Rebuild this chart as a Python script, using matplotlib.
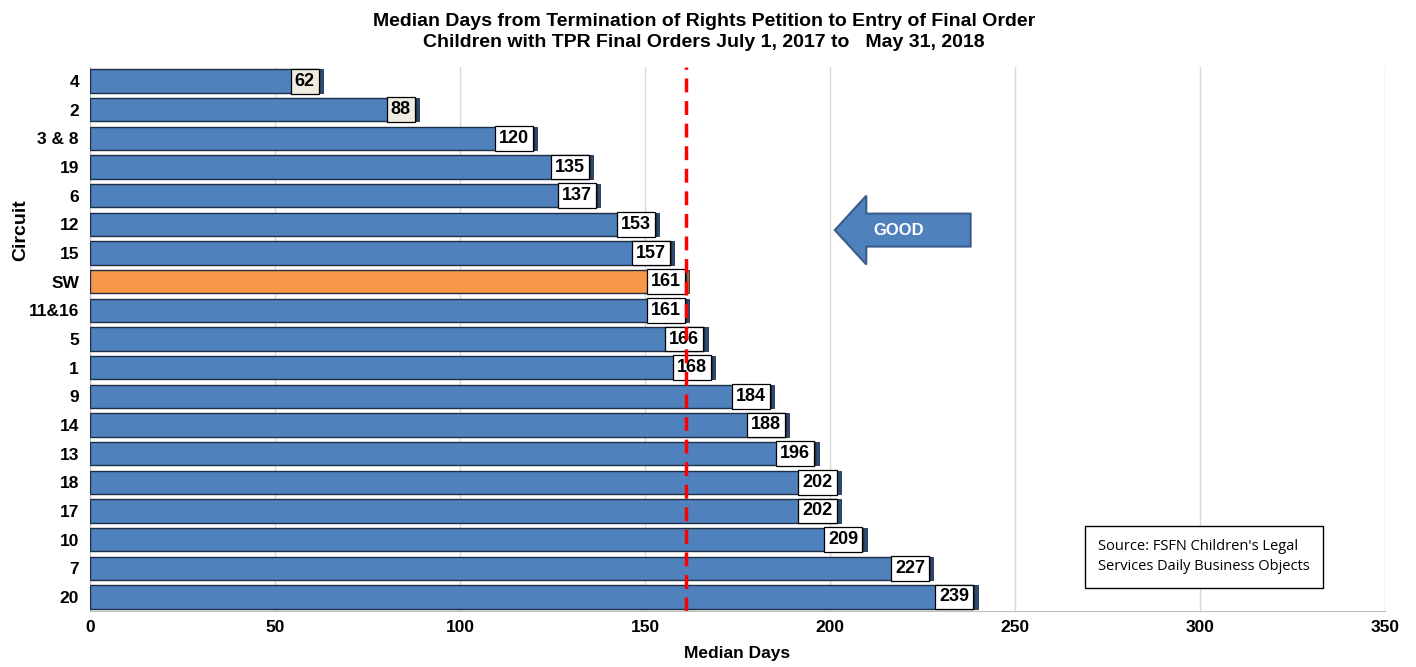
import matplotlib.pyplot as plt
import numpy as np
from matplotlib.patches import FancyArrow

circuits = ['4', '2', '3 & 8', '19', '6', '12', '15', 'SW', '11&16', '5', '1',
            '9', '14', '13', '18', '17', '10', '7', '20']
median_days = [62, 88, 120, 135, 137, 153, 157, 161, 161, 166, 168,
               184, 188, 196, 202, 202, 209, 227, 239]
statewide = 161
x_ticks = [0, 50, 100, 150, 200, 250, 300, 350]

plt.rcParams['font.family'] = ['Liberation Sans', 'DejaVu Sans']

fig = plt.figure(figsize=(14.16, 6.67), dpi=100)
ax = fig.add_axes([0.0636, 0.0835, 0.9145, 0.8165])

y = np.arange(len(circuits))
kolory = ['#f79646' if c == 'SW' else '#4f81bd' for c in circuits]
cienie = ['#b86a2a' if c == 'SW' else '#2c4d75' for c in circuits]

# "3D" shadow behind each bar
ax.barh(y, np.array(median_days) + 0.9, height=0.82, color=cienie,
        edgecolor='#1f2f45', linewidth=0.6, zorder=2)
ax.barh(y, median_days, height=0.82, color=kolory, edgecolor='#1f2f45',
        linewidth=1.0, zorder=3)

for yi, v in zip(y, median_days):
    tlo = '#eeece1' if v < 100 else 'white'
    ax.annotate(str(v), xy=(v, yi), xytext=(-3.5, 0), textcoords='offset points',
                ha='right', va='center', fontsize=13, fontweight='bold',
                bbox=dict(boxstyle='square,pad=0.22', fc=tlo, ec='black', lw=0.9),
                zorder=5)

ax.axvline(statewide, color='#ff0000', linestyle=(0, (4, 2.5)), lw=2.5, zorder=6)

ax.set_xlim(0, 350)
ax.set_ylim(len(circuits) - 0.5, -0.5)
ax.set_xticks(x_ticks)
ax.set_yticks(y)
ax.set_yticklabels(circuits)
ax.tick_params(axis='x', length=0, labelsize=12.5, pad=6)
ax.tick_params(axis='y', length=0, labelsize=12.5, pad=8)
for lab in ax.get_xticklabels() + ax.get_yticklabels():
    lab.set_fontweight('bold')
ax.xaxis.grid(True, color='#d9d9d9', lw=1)
ax.set_axisbelow(True)
for s in ['top', 'right']:
    ax.spines[s].set_visible(False)
ax.spines['left'].set_color('#bfbfbf')
ax.spines['bottom'].set_color('#bfbfbf')

ax.set_xlabel('Median Days', fontsize=12.5, fontweight='bold', labelpad=8)
ax.set_ylabel('Circuit', fontsize=14, fontweight='bold')
ax.yaxis.set_label_coords(-0.047, 0.70)

fig.text(0.497, 0.98, 'Median Days from Termination of Rights Petition to Entry of Final Order\n'
         'Children with TPR Final Orders July 1, 2017 to   May 31, 2018',
         ha='center', va='top', fontsize=14, fontweight='bold', linespacing=1.3)

# GOOD arrow
strzalka = FancyArrow(238, 5.2, -36.7, 0, width=1.15, head_width=2.4,
                      head_length=8.5, length_includes_head=True,
                      fc='#4f81bd', ec='#385d8a', lw=1.5, zorder=4)
ax.add_patch(strzalka)
ax.text(218.5, 5.2, 'GOOD', color='white', fontsize=12, fontweight='bold',
        ha='center', va='center', zorder=5)

fig.text(0.7755, 0.165, "Source: FSFN Children's Legal\nServices Daily Business Objects",
         fontsize=10.5, family=['Open Sans', 'DejaVu Sans'], va='center', ha='left',
         linespacing=1.45,
         bbox=dict(boxstyle='square,pad=0.9', fc='white', ec='black', lw=1))

plt.savefig('out.png', dpi=100)
